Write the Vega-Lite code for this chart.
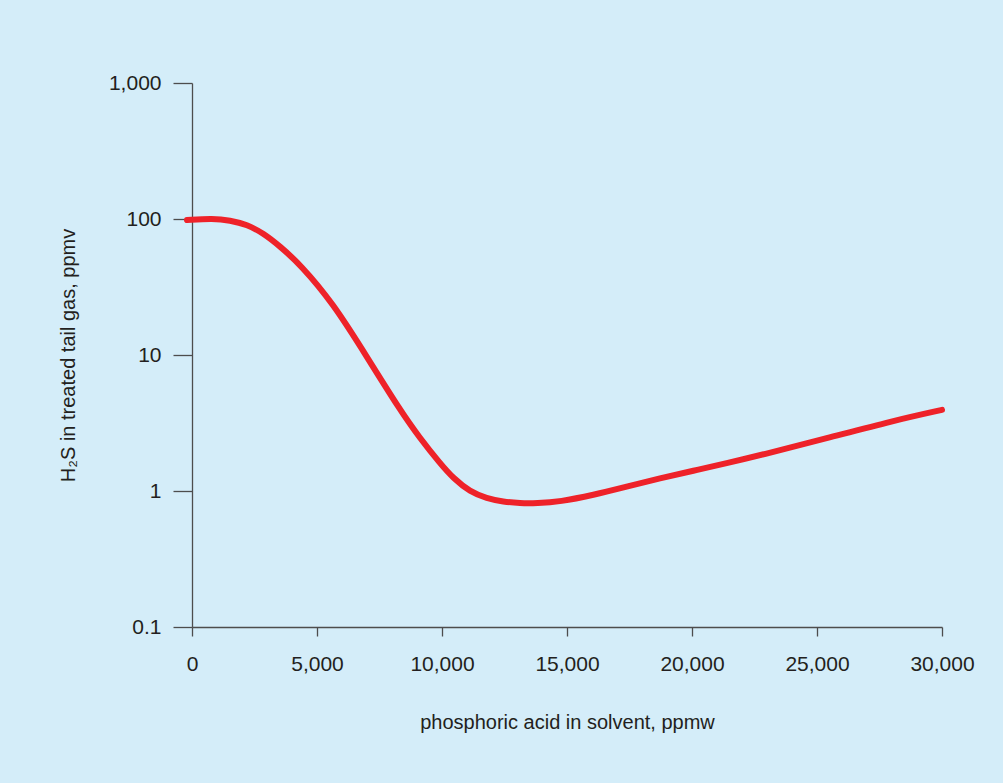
{
  "$schema": "https://vega.github.io/schema/vega-lite/v6.json",
  "autosize": "none",
  "width": 750,
  "height": 544,
  "padding": {"left": 192, "top": 83, "right": 61, "bottom": 156},
  "background": "#d4edf9",
  "config": {
    "view": {"stroke": null},
    "font": "Liberation Sans",
    "axis": {
      "domainColor": "#4d4d4d",
      "tickColor": "#4d4d4d",
      "domainWidth": 1.3,
      "tickWidth": 1.3,
      "grid": false,
      "labelFont": "Liberation Sans",
      "labelFontSize": 21,
      "labelColor": "#231f20",
      "titleFont": "Liberation Sans",
      "titleFontSize": 20,
      "titleFontWeight": "normal",
      "titleColor": "#231f20"
    }
  },
  "data": {
    "values": [
      {"acid": -200, "h2s": 98.4},
      {"acid": 840, "h2s": 101},
      {"acid": 1520, "h2s": 97.8},
      {"acid": 2200, "h2s": 91},
      {"acid": 2860, "h2s": 78.5},
      {"acid": 3520, "h2s": 63},
      {"acid": 4320, "h2s": 46.5},
      {"acid": 5640, "h2s": 24.1},
      {"acid": 7000, "h2s": 9.67},
      {"acid": 8320, "h2s": 3.94},
      {"acid": 9120, "h2s": 2.44},
      {"acid": 9920, "h2s": 1.6},
      {"acid": 10453, "h2s": 1.24},
      {"acid": 11120, "h2s": 0.988},
      {"acid": 11787, "h2s": 0.884},
      {"acid": 12453, "h2s": 0.834},
      {"acid": 13120, "h2s": 0.812},
      {"acid": 13787, "h2s": 0.812},
      {"acid": 14720, "h2s": 0.834},
      {"acid": 16053, "h2s": 0.934},
      {"acid": 17387, "h2s": 1.076},
      {"acid": 18720, "h2s": 1.24},
      {"acid": 20053, "h2s": 1.41},
      {"acid": 21387, "h2s": 1.6},
      {"acid": 22720, "h2s": 1.83},
      {"acid": 25387, "h2s": 2.44},
      {"acid": 28053, "h2s": 3.29},
      {"acid": 30000, "h2s": 3.95}
    ]
  },
  "mark": {"type": "line", "color": "#ee2229", "strokeWidth": 6, "strokeCap": "round", "interpolate": "basis", "clip": false},
  "encoding": {
    "x": {
      "field": "acid",
      "type": "quantitative",
      "scale": {"domain": [0, 30000], "nice": false, "zero": false},
      "axis": {
        "title": "phosphoric acid in solvent, ppmw",
        "values": [0, 5000, 10000, 15000, 20000, 25000, 30000],
        "format": ",d",
        "tickSize": 9,
        "labelPadding": 17,
        "titlePadding": 38,
        "labelFlush": false
      }
    },
    "y": {
      "field": "h2s",
      "type": "quantitative",
      "scale": {"type": "log", "domain": [0.1, 1000], "nice": false},
      "axis": {
        "title": "H₂S in treated tail gas, ppmv",
        "values": [0.1, 1, 10, 100, 1000],
        "labelExpr": "datum.value >= 1 ? format(datum.value, ',d') : format(datum.value, '.1f')",
        "tickSize": 19,
        "labelPadding": 12,
        "titlePadding": 30,
        "labelFlush": false
      }
    }
  }
}
